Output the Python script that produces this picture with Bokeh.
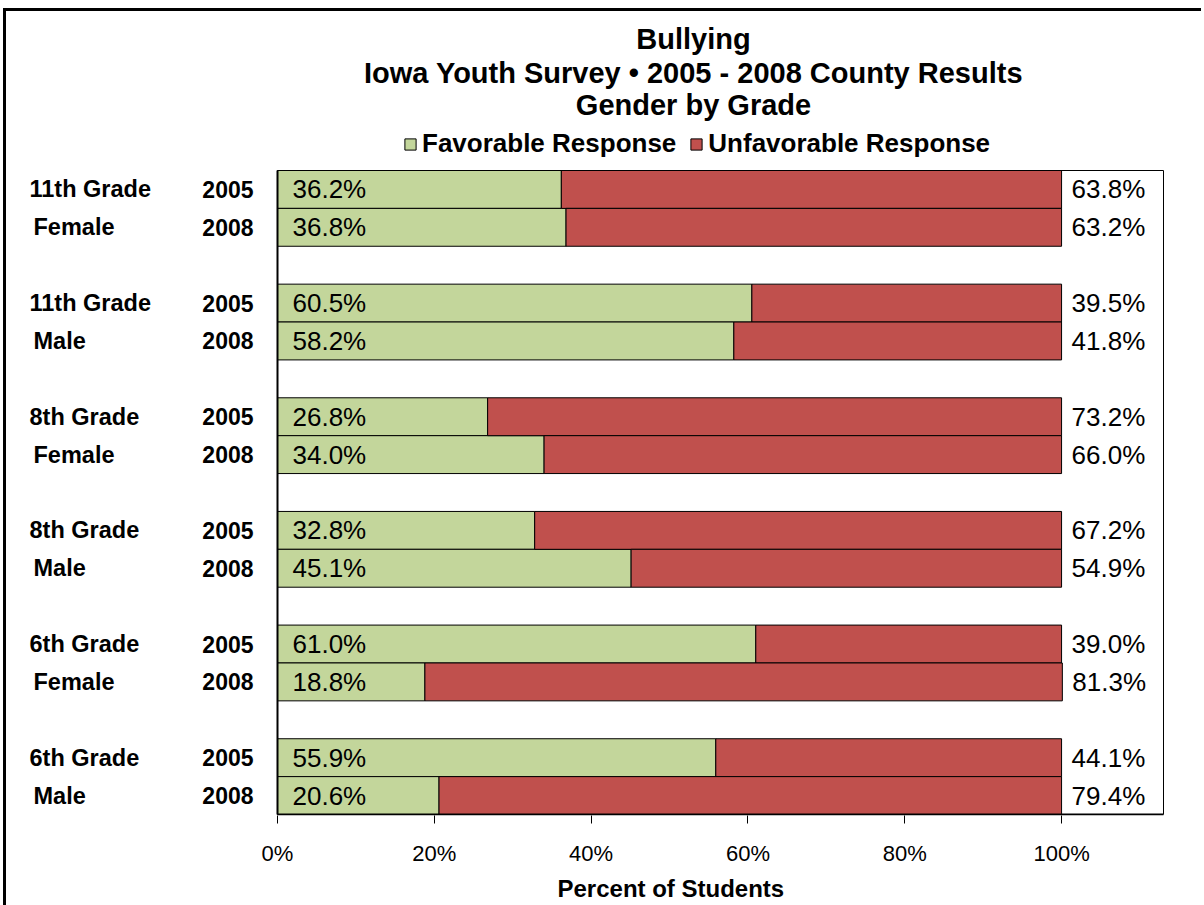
from bokeh.plotting import figure
from bokeh.models import (ColumnDataSource, Range1d, FixedTicker, PrintfTickFormatter,
                          LabelSet, Label, Legend, LegendItem, Title)
from bokeh.core.properties import value
from bokeh.embed import file_html
from bokeh.resources import INLINE

# ---- data ----
grades = ["11th Grade", "11th Grade", "8th Grade", "8th Grade", "6th Grade", "6th Grade"]
genders = ["Female", "Male", "Female", "Male", "Female", "Male"]
years = ["2005", "2008"]
favorable = [36.2, 36.8, 60.5, 58.2, 26.8, 34.0, 32.8, 45.1, 61.0, 18.8, 55.9, 20.6]
unfavorable = [63.8, 63.2, 39.5, 41.8, 73.2, 66.0, 67.2, 54.9, 39.0, 81.3, 44.1, 79.4]
x_ticks = [0, 20, 40, 60, 80, 100]
titles = ["Bullying", "Iowa Youth Survey \u2022 2005 - 2008 County Results", "Gender by Grade"]
x_title = "Percent of Students"

FONT = "Liberation Sans"
GREEN = "#C3D69B"
RED = "#C0504D"

# ---- rows: 2 bars per group + 1 empty slot between groups ----
n_groups = len(grades)
ys, fav_l, fav_r, unf_r, fav_txt, unf_txt, yr_txt = [], [], [], [], [], [], []
for i in range(n_groups * len(years)):
    g, k = divmod(i, len(years))
    ys.append(g * (len(years) + 1) + k + 0.5)
    fav_l.append(0)
    fav_r.append(favorable[i])
    unf_r.append(favorable[i] + unfavorable[i])
    fav_txt.append(f"{favorable[i]:.1f}%")
    unf_txt.append(f"{unfavorable[i]:.1f}%")
    yr_txt.append(years[k])
n_slots = n_groups * (len(years) + 1) - 1

src = ColumnDataSource(dict(y=ys, fl=fav_l, fr=fav_r, ur=unf_r, ft=fav_txt, ut=unf_txt, yr=yr_txt))
grp_src = ColumnDataSource(dict(
    yg=[g * (len(years) + 1) + 0.5 for g in range(n_groups)],
    ys=[g * (len(years) + 1) + 1.5 for g in range(n_groups)],
    grade=grades, gender=genders))

# ---- geometry (pixels) ----
PLOT_W, PLOT_H = 886, 644          # bar area
LABEL_W, HEAD_H = 271, 159         # label column at left, heading band at top
X_MAX = 113.0                      # right end of the plot box (percent)
px_per_x = PLOT_W / X_MAX
px_per_y = PLOT_H / n_slots

p = figure(frame_width=LABEL_W + PLOT_W + 2, frame_height=HEAD_H + PLOT_H + 1,
           x_range=Range1d(-LABEL_W / px_per_x, X_MAX + 2 / px_per_x),
           y_range=Range1d(n_slots + 1 / px_per_y, -HEAD_H / px_per_y),
           output_backend="svg", toolbar_location=None, y_axis_location=None,
           min_border_left=0, min_border_top=0, min_border_right=36, min_border_bottom=86,
           styles={"border-top": "3px solid black", "border-left": "3px solid black",
                   "margin-left": "3px", "margin-top": "8px"})
p.grid.visible = False
p.outline_line_color = None

r_fav = p.hbar(y="y", left="fl", right="fr", height=1.0, source=src,
               fill_color=GREEN, line_color="black", line_width=1)
r_unf = p.hbar(y="y", left="fr", right="ur", height=1.0, source=src,
               fill_color=RED, line_color="black", line_width=1)

# plot-area box: thin top/right, thick left/bottom (axis lines)
p.segment(x0=[0, X_MAX], y0=[0, 0], x1=[X_MAX, X_MAX], y1=[0, n_slots],
          line_color="black", line_width=1)
p.segment(x0=[0, 0], y0=[0, n_slots], x1=[0, X_MAX], y1=[n_slots, n_slots],
          line_color="black", line_width=2)

ax = p.xaxis[0]
ax.ticker = FixedTicker(ticks=x_ticks)
ax.formatter = PrintfTickFormatter(format="%d%%")
ax.minor_tick_line_color = None
ax.major_tick_in = 0
ax.major_tick_out = 8
ax.major_tick_line_color = "black"
ax.axis_line_color = None
ax.major_label_text_font = FONT
ax.major_label_text_font_size = "22px"
ax.major_label_text_color = "black"
ax.major_label_standoff = 17

p.add_layout(Title(text=x_title, align="left", offset=551, text_font=FONT,
                   text_font_size="24px", text_font_style="bold", text_color="black",
                   standoff=8), "below")

# bar value labels
p.add_layout(LabelSet(x="fl", y="y", text="ft", source=src, x_offset=15,
                      text_font=value(FONT), text_font_size="26px", text_baseline="middle",
                      text_align="left", text_color="black"))
p.add_layout(LabelSet(x="ur", y="y", text="ut", source=src, x_offset=10,
                      text_font=value(FONT), text_font_size="26px", text_baseline="middle",
                      text_align="left", text_color="black"))

# row labels
p.text(x=0, y="y", text="yr", source=src, x_offset=-24, text_font=value(FONT),
       text_font_size="23px", text_font_style="bold", text_align="right",
       text_baseline="middle", text_color="black")
p.text(x=0, y="yg", text="grade", source=grp_src, x_offset=-248, text_font=value(FONT),
       text_font_size="23.5px", text_font_style="bold", text_align="left",
       text_baseline="middle", text_color="black")
p.text(x=0, y="ys", text="gender", source=grp_src, x_offset=-244, text_font=value(FONT),
       text_font_size="23.5px", text_font_style="bold", text_align="left",
       text_baseline="middle", text_color="black")

# titles (centred 416 px right of the plot box's left edge)
title_x = 416 / px_per_x
for t, dy in zip(titles, [132, 98, 66]):
    p.add_layout(Label(x=title_x, y=-dy / px_per_y, text=t, text_font=FONT,
                       text_font_size="29px", text_font_style="bold", text_align="center",
                       text_baseline="middle", text_color="black"))

# legend
legend = Legend(items=[LegendItem(label="Favorable Response", renderers=[r_fav]),
                       LegendItem(label="Unfavorable Response", renderers=[r_unf])],
                orientation="horizontal", location=(397, 656),
                glyph_width=14, glyph_height=14, label_standoff=5, spacing=13,
                padding=0, margin=0, border_line_color=None, background_fill_alpha=0,
                label_text_font=FONT, label_text_font_size="26px",
                label_text_font_style="bold", label_text_color="black")
p.add_layout(legend, "center")

open("out.html", "w").write(file_html(p, INLINE))
